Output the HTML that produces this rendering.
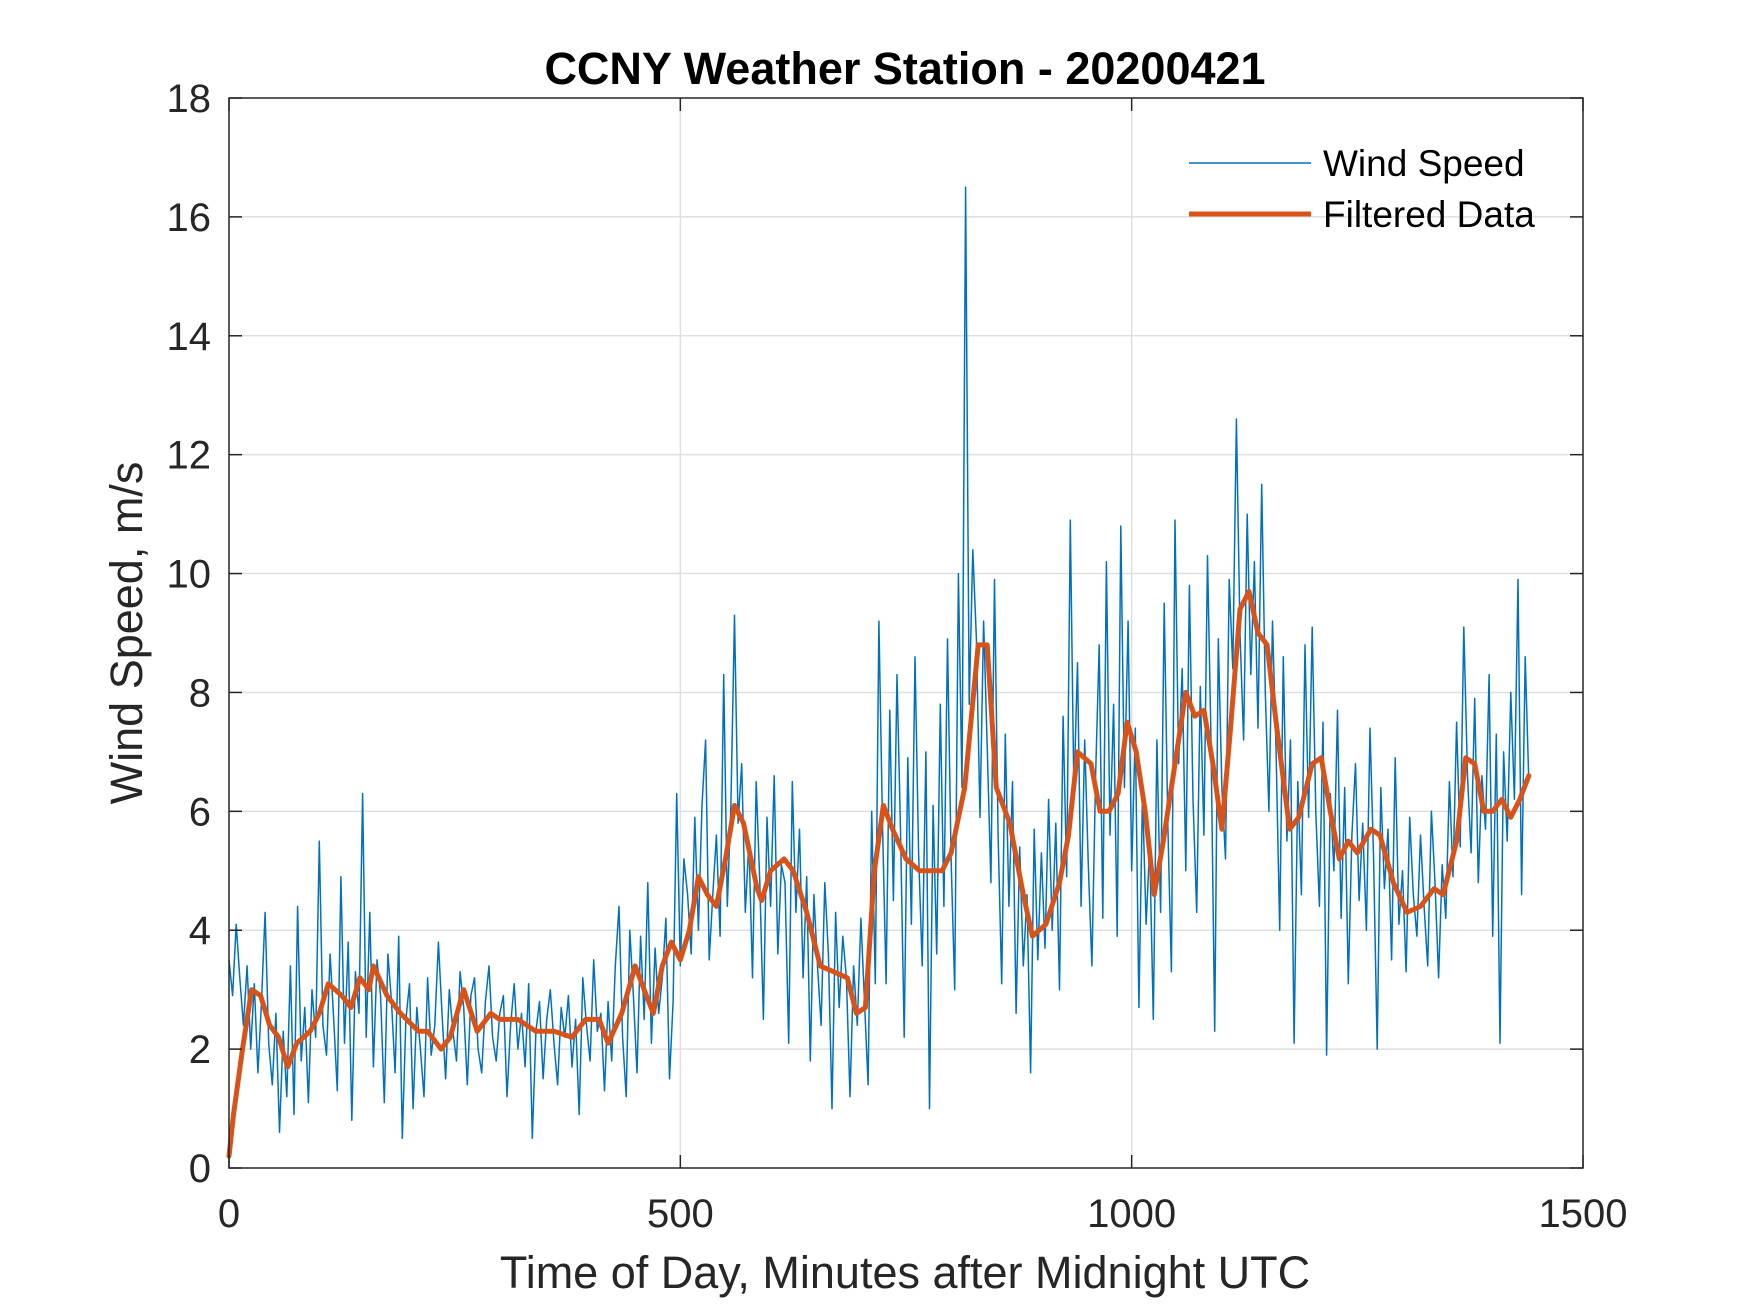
<!DOCTYPE html>
<html><head><meta charset="utf-8"><style>
html,body{margin:0;padding:0;background:#fff;}
svg{display:block;font-family:"Liberation Sans",Arial,sans-serif;}
</style></head><body>
<svg id="chart" width="1750" height="1313" viewBox="0 0 1750 1313" xmlns="http://www.w3.org/2000/svg">
<rect width="1750" height="1313" fill="#fff"/>
<g id="grid"></g>
<g id="series"></g>
<g id="axes"></g>
<text x="905" y="84" text-anchor="middle" font-size="45" font-weight="bold" fill="#000">CCNY Weather Station - 20200421</text>
<text x="905" y="1288" text-anchor="middle" font-size="45" fill="#262626">Time of Day, Minutes after Midnight UTC</text>
<text transform="translate(142,633) rotate(-90)" text-anchor="middle" font-size="45" fill="#262626">Wind Speed, m/s</text>
<g>
<line x1="1189" y1="163" x2="1311" y2="163" stroke="#0072bd" stroke-width="1.5"/>
<text x="1323" y="176" font-size="37" fill="#000">Wind Speed</text>
<line x1="1189" y1="214" x2="1311" y2="214" stroke="#d95319" stroke-width="5"/>
<text x="1323" y="227" font-size="37" fill="#000">Filtered Data</text>
</g>
</svg>
<script>
const xTicks=[0,500,1000,1500];
const yTicks=[0,2,4,6,8,10,12,14,16,18];
const rawStep=4;
const rawValues=[
3.5,2.9,4.1,3.2,2.4,3.4,2.0,3.1,1.6,2.8,4.3,2.1,1.4,2.6,0.6,
2.3,1.2,3.4,0.9,4.4,1.8,2.7,1.1,3.0,2.2,5.5,2.4,1.9,3.6,2.5,
1.3,4.9,2.1,3.8,0.8,3.3,2.6,6.3,2.2,4.3,1.7,3.5,2.9,1.1,3.6,
2.8,1.6,3.9,0.5,2.5,3.1,1.0,2.7,2.0,1.2,3.2,1.9,2.4,3.8,2.6,
1.5,3.0,2.3,1.8,3.3,2.7,1.4,2.9,3.2,2.0,1.6,2.8,3.4,2.2,1.8,
2.6,2.9,1.2,2.4,3.1,2.0,2.6,1.7,3.1,0.5,2.3,2.8,1.5,2.5,3.0,
2.1,1.4,2.7,2.2,2.9,1.7,2.5,0.9,3.2,2.4,1.8,3.5,2.3,2.6,1.3,
2.8,1.8,3.4,4.4,2.2,1.2,4.0,2.9,1.6,3.9,2.5,4.8,2.1,3.7,2.6,
3.2,4.2,1.5,2.8,6.3,3.4,5.2,4.6,3.6,5.9,4.0,6.1,7.2,3.5,4.6,
5.6,3.9,8.3,4.4,6.1,9.3,5.8,6.8,4.3,5.5,3.2,6.5,4.8,2.5,5.9,
4.4,6.6,3.6,5.1,4.8,2.1,6.5,4.3,5.7,3.2,4.9,1.8,4.6,3.4,2.4,
4.8,3.6,1.0,4.3,2.7,3.9,3.2,1.2,3.4,2.4,4.2,2.8,1.4,6.0,3.1,
9.2,5.8,3.1,7.7,4.5,8.3,5.6,2.2,6.9,4.1,8.6,5.3,3.4,7.0,1.0,
6.1,3.6,7.8,4.4,8.9,5.2,3.0,10.0,6.4,16.5,7.8,10.4,8.9,5.9,9.2,
7.1,4.8,9.9,5.6,3.1,7.3,4.4,6.5,2.6,5.4,3.4,4.6,1.6,5.7,3.5,
5.3,3.7,6.2,4.0,5.8,3.0,7.6,4.9,10.9,6.3,8.5,4.4,7.2,5.1,3.4,
6.6,8.8,4.2,10.2,5.6,7.8,3.9,10.8,6.4,9.2,5.0,7.4,2.7,6.3,4.1,
5.4,2.5,7.2,4.3,9.5,5.8,3.3,10.9,6.8,8.4,5.0,9.8,6.2,4.3,8.1,
5.6,10.3,7.1,2.3,8.9,6.4,5.2,9.9,8.4,12.6,9.0,7.2,11.0,8.3,10.2,
7.4,11.5,8.0,6.0,9.2,7.0,4.0,8.6,5.5,7.2,2.1,6.5,4.6,8.8,5.9,
9.1,6.0,4.4,7.5,1.9,6.3,5.0,7.7,4.2,6.4,3.1,5.6,6.8,4.5,5.8,
4.0,7.4,5.2,2.0,6.4,4.7,5.7,3.5,6.9,4.1,5.0,3.3,5.9,4.6,3.9,
5.6,4.4,3.4,6.0,4.8,3.2,5.1,4.2,6.5,4.9,7.5,5.4,9.1,6.6,5.3,
7.9,4.8,6.6,5.7,8.3,3.9,7.3,2.1,7.0,5.5,8.0,6.2,9.9,4.6,8.6,
6.5];
const filtMinutes=[0,5,15,25,35,45,55,65,75,90,100,110,125,135,145,155,160,175,190,210,220,235,245,260,275,290,300,320,340,360,380,395,410,420,435,450,460,470,480,490,500,510,520,530,540,550,560,570,585,590,600,615,625,640,655,670,685,695,705,715,725,735,750,765,780,790,800,815,825,830,840,850,865,880,890,905,920,930,940,955,965,975,985,995,1005,1015,1025,1035,1050,1060,1070,1080,1090,1100,1110,1120,1130,1140,1150,1160,1175,1185,1200,1210,1220,1230,1240,1250,1265,1275,1290,1305,1320,1335,1345,1360,1370,1380,1390,1400,1410,1420,1430,1440];
const filtValues=[0.2,0.9,2.0,3.0,2.9,2.4,2.2,1.7,2.1,2.3,2.6,3.1,2.9,2.7,3.2,3.0,3.4,2.9,2.6,2.3,2.3,2.0,2.2,3.0,2.3,2.6,2.5,2.5,2.3,2.3,2.2,2.5,2.5,2.1,2.6,3.4,3.0,2.6,3.4,3.8,3.5,4.0,4.9,4.6,4.4,5.2,6.1,5.8,4.7,4.5,5.0,5.2,5.0,4.3,3.4,3.3,3.2,2.6,2.7,5.0,6.1,5.7,5.2,5.0,5.0,5.0,5.3,6.4,8.0,8.8,8.8,6.4,5.8,4.6,3.9,4.1,4.8,5.6,7.0,6.8,6.0,6.0,6.3,7.5,7.0,6.0,4.6,5.5,7.0,8.0,7.6,7.7,6.8,5.7,7.5,9.4,9.7,9.0,8.8,7.5,5.7,5.9,6.8,6.9,6.0,5.2,5.5,5.3,5.7,5.6,4.8,4.3,4.4,4.7,4.6,5.5,6.9,6.8,6.0,6.0,6.2,5.9,6.2,6.6];

const L=229,R=1583,T=98,B=1168;
const xMin=0,xMax=1500,yMin=0,yMax=18;
const X=v=>L+(v-xMin)/(xMax-xMin)*(R-L);
const Y=v=>B-(v-yMin)/(yMax-yMin)*(B-T);
const NS='http://www.w3.org/2000/svg';
function mk(tag,attrs,parent){const e=document.createElementNS(NS,tag);for(const k in attrs)e.setAttribute(k,attrs[k]);parent.appendChild(e);return e;}
const grid=document.getElementById('grid'),axes=document.getElementById('axes'),series=document.getElementById('series');
xTicks.forEach(t=>{
  if(t>xMin&&t<xMax){const g=mk('line',{x1:X(t),x2:X(t),y1:T,y2:B,stroke:'#dfdfdf','stroke-width':1.5},grid);
  
  }
  const a=mk('line',{x1:X(t),x2:X(t),y1:B,y2:B-13,stroke:'#262626','stroke-width':1.5},axes);
  
  
  const b=mk('line',{x1:X(t),x2:X(t),y1:T,y2:T+13,stroke:'#262626','stroke-width':1.5},axes);
  
  
  const tx=mk('text',{x:X(t),y:1227,'text-anchor':'middle','font-size':40,fill:'#262626'},axes);
  tx.textContent=t;
  
  
});
yTicks.forEach(t=>{
  if(t>yMin&&t<yMax){const g=mk('line',{x1:L,x2:R,y1:Y(t),y2:Y(t),stroke:'#dfdfdf','stroke-width':1.5},grid);
  
  }
  const a=mk('line',{x1:L,x2:L+13,y1:Y(t),y2:Y(t),stroke:'#262626','stroke-width':1.5},axes);
  
  
  const b=mk('line',{x1:R,x2:R-13,y1:Y(t),y2:Y(t),stroke:'#262626','stroke-width':1.5},axes);
  
  
  const tx=mk('text',{x:211,y:Y(t)+14,'text-anchor':'end','font-size':40,fill:'#262626'},axes);
  tx.textContent=t;
  
  
});
const box=mk('rect',{x:L,y:T,width:R-L,height:B-T,fill:'none',stroke:'#262626','stroke-width':1.5},axes);


const rawPts=rawValues.map((v,i)=>X(i*rawStep).toFixed(1)+','+Y(v).toFixed(1)).join(' ');
const raw=mk('polyline',{points:rawPts,fill:'none',stroke:'#0072bd','stroke-width':1.5,'stroke-linejoin':'round'},series);


const fPts=filtValues.map((v,i)=>X(filtMinutes[i]).toFixed(1)+','+Y(v).toFixed(1)).join(' ');
const filt=mk('polyline',{points:fPts,fill:'none',stroke:'#d95319','stroke-width':5,'stroke-linejoin':'round','stroke-linecap':'round'},series);


</script>
</body></html>
